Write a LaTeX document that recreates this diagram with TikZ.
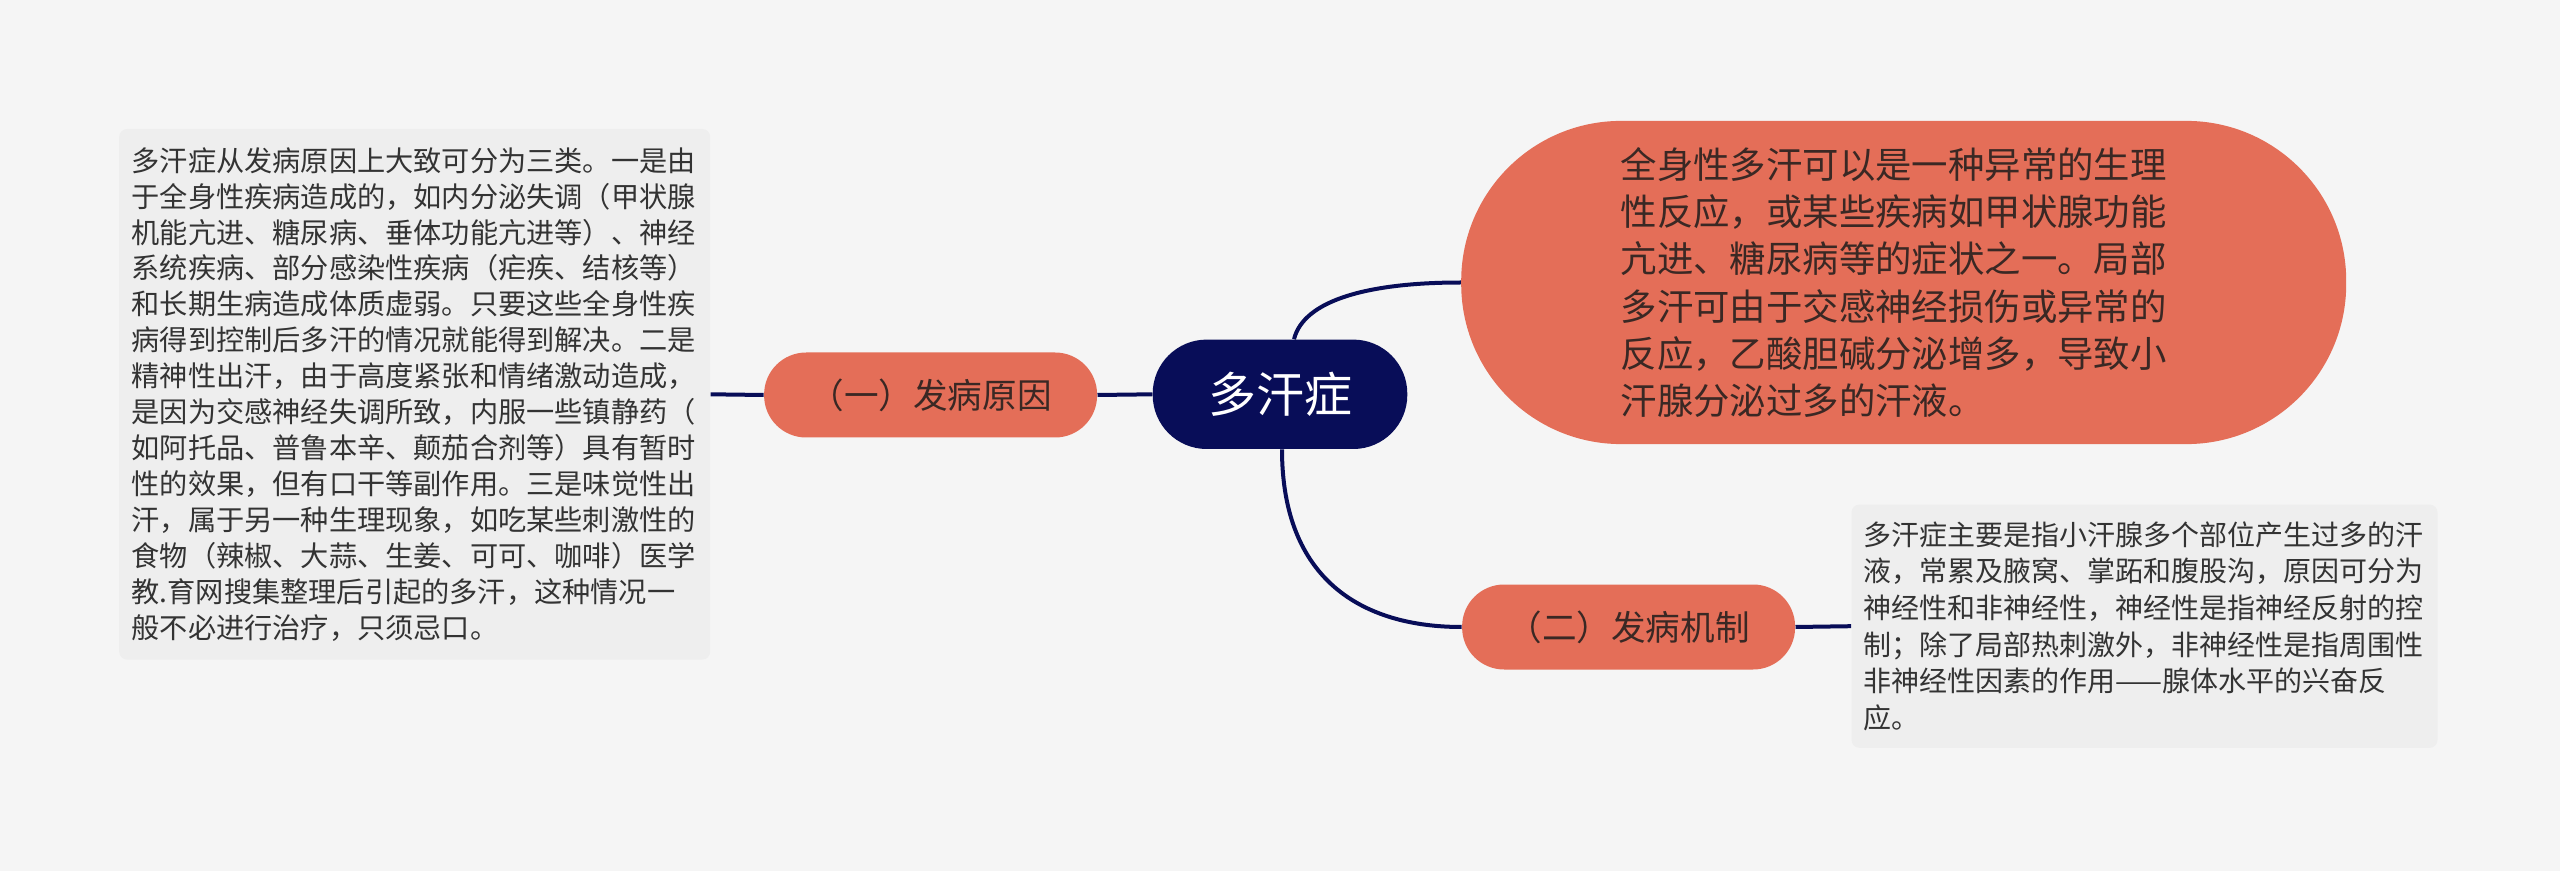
\documentclass[tikz,border=0pt]{standalone}
\usepackage{fontspec}
\setmainfont{Noto Sans CJK SC}
\usetikzlibrary{calc}
\definecolor{bg}{HTML}{F5F5F5}
\definecolor{navy}{HTML}{080D58}
\definecolor{coral}{HTML}{E46E58}
\definecolor{boxgray}{HTML}{EEEEEE}
\definecolor{txtdark}{HTML}{333333}
\definecolor{txtbrown}{HTML}{3A2824}
\begin{document}
\begin{tikzpicture}[x=0.5pt,y=-0.5pt,
  conn/.style={draw=navy,line width=2pt},
  graybox/.style={fill=boxgray,rounded corners=4pt,align=left,text=txtdark,inner ysep=0pt},
  topic/.style={fill=coral,text=txtbrown,rounded corners=21pt,minimum width=166.5pt,minimum height=42.5pt,inner sep=0pt,font=\fontsize{17.3pt}{20pt}\selectfont},
  rootnode/.style={fill=navy,text=white,rounded corners=27pt,minimum width=127.3pt,minimum height=54.7pt,inner sep=0pt,font=\fontsize{24pt}{28pt}\selectfont}
]
\fill[bg] (0,0) rectangle (2560,871);

\node[graybox,minimum width=295.5pt,minimum height=265.3pt,text width=283pt,inner xsep=6.25pt,
  font=\fontsize{14.1pt}{17.96pt}\selectfont] (lbox) at (414.7,394.3) {%
多汗症从发病原因上大致可分为三类。一是由\\
于全身性疾病造成的，如内分泌失调（甲状腺\\
机能亢进、糖尿病、垂体功能亢进等）、神经\\
系统疾病、部分感染性疾病（疟疾、结核等）\\
和长期生病造成体质虚弱。只要这些全身性疾\\
病得到控制后多汗的情况就能得到解决。二是\\
精神性出汗，由于高度紧张和情绪激动造成，\\
是因为交感神经失调所致，内服一些镇静药（\\
如阿托品、普鲁本辛、颠茄合剂等）具有暂时\\
性的效果，但有口干等副作用。三是味觉性出\\
汗，属于另一种生理现象，如吃某些刺激性的\\
食物（辣椒、大蒜、生姜、可可、咖啡）医学\\
教.育网搜集整理后引起的多汗，这种情况一\\
般不必进行治疗，只须忌口。};

\node[topic] (n1) at (930.6,395) {（一）发病原因};
\node[rootnode] (root) at (1280,394.3) {多汗症};

\node[fill=coral,text=txtbrown,rounded corners=80pt,minimum width=442.5pt,minimum height=161.6pt,
  text width=283pt,align=left,font=\fontsize{18.2pt}{23.65pt}\selectfont] (n2) at (1903.7,282.5) {%
全身性多汗可以是一种异常的生理\\
性反应，或某些疾病如甲状腺功能\\
亢进、糖尿病等的症状之一。局部\\
多汗可由于交感神经损伤或异常的\\
反应，乙酸胆碱分泌增多，导致小\\
汗腺分泌过多的汗液。};

\node[topic] (n3) at (1628.6,627) {（二）发病机制};

\node[graybox,minimum width=293pt,minimum height=121.65pt,text width=281pt,inner xsep=6pt,
  font=\fontsize{14pt}{18.3pt}\selectfont] (rbox) at (2144.5,626.2) {%
多汗症主要是指小汗腺多个部位产生过多的汗\\
液，常累及腋窝、掌跖和腹股沟，原因可分为\\
神经性和非神经性，神经性是指神经反射的控\\
制；除了局部热刺激外，非神经性是指周围性\\
非神经性因素的作用——腺体水平的兴奋反\\
应。};

\draw[conn] (lbox.east) -- (n1.west);
\draw[conn] (n1.east) -- (root.west);
\draw[conn] ([xshift=7pt]root.north) .. controls +(10,-40) and +(-90,0) .. (n2.west);
\draw[conn] ([xshift=1pt]root.south) .. controls +(0,130) and +(-100,0) .. (n3.west);
\draw[conn] (n3.east) -- (rbox.west);
\end{tikzpicture}
\end{document}
